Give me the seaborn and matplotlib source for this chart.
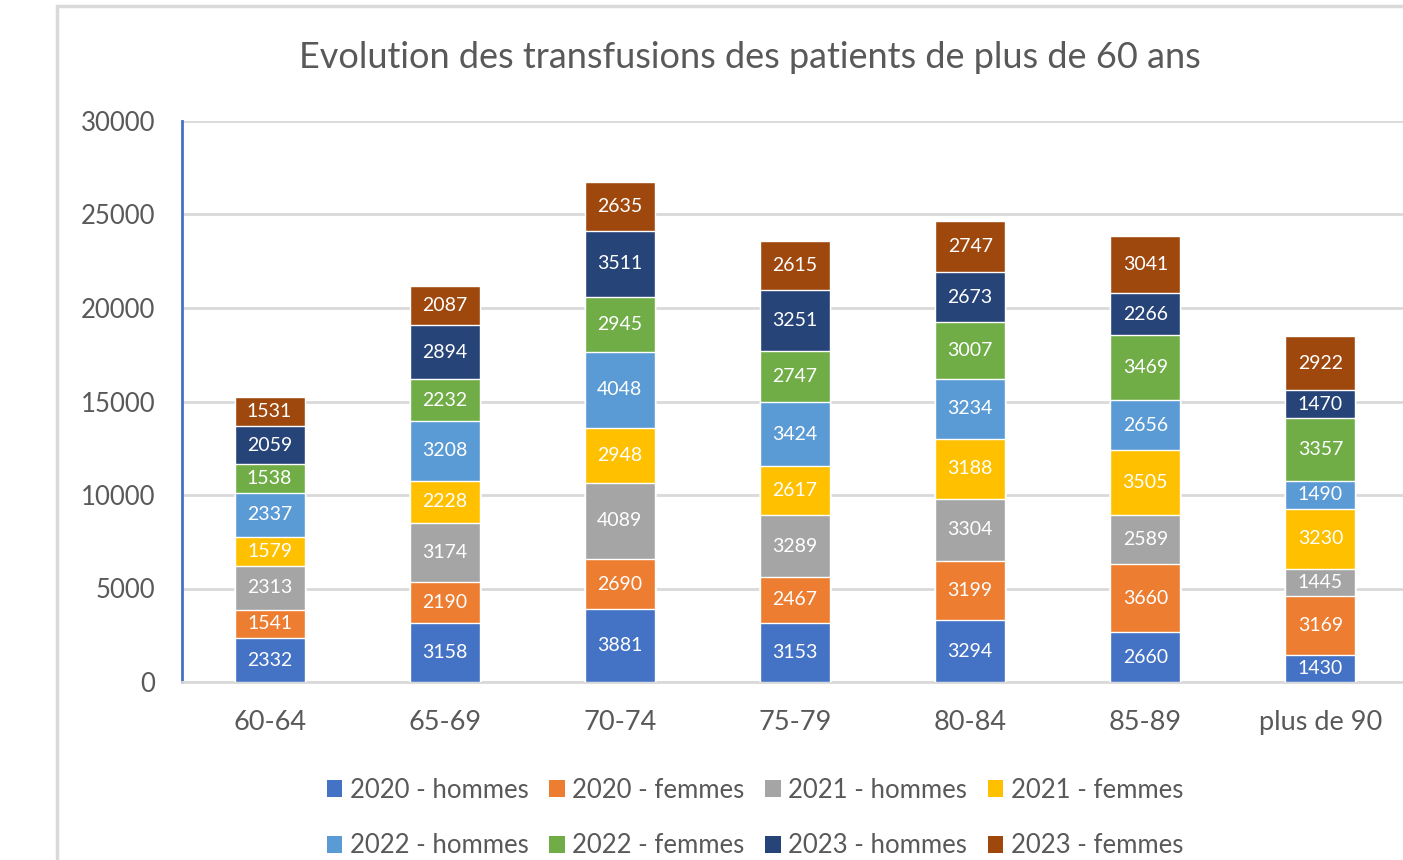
"""
Stacked bar chart: transfusions of patients over 60, by age group, year and sex.
"""

import numpy as np
import pandas as pd
import matplotlib
matplotlib.use('Agg')
import matplotlib.pyplot as plt
from matplotlib.patches import Patch, Rectangle
import seaborn as sns

# Data
age_groups = ['60-64', '65-69', '70-74', '75-79', '80-84', '85-89', 'plus de 90']
series_names = ['2020 - hommes', '2020 - femmes', '2021 - hommes', '2021 - femmes',
                '2022 - hommes', '2022 - femmes', '2023 - hommes', '2023 - femmes']

h2020 = [2332, 3158, 3881, 3153, 3294, 2660, 1430]
f2020 = [1541, 2190, 2690, 2467, 3199, 3660, 3169]
h2021 = [2313, 3174, 4089, 3289, 3304, 2589, 1445]
f2021 = [1579, 2228, 2948, 2617, 3188, 3505, 3230]
h2022 = [2337, 3208, 4048, 3424, 3234, 2656, 1490]
f2022 = [1538, 2232, 2945, 2747, 3007, 3469, 3357]
h2023 = [2059, 2894, 3511, 3251, 2673, 2266, 1470]
f2023 = [1531, 2087, 2635, 2615, 2747, 3041, 2922]

colors = ['#4472C4', '#ED7D31', '#A5A5A5', '#FFC000',
          '#5B9BD5', '#70AD47', '#264478', '#9E480E']

TEXT_GRAY = '#595959'
GRID_GRAY = '#D9D9D9'

sns.set_theme(style='white')
plt.rcParams['font.family'] = ['Lato', 'DejaVu Sans']

values = np.array([h2020, f2020, h2021, f2021, h2022, f2022, h2023, f2023])
tops = values.cumsum(axis=0)

df = pd.DataFrame({'age': age_groups})
for i, name in enumerate(series_names):
    df[name] = tops[i]

fig = plt.figure(figsize=(14.03, 8.6), dpi=100)
# plot area runs past the right edge (the screenshot is cropped)
ax = fig.add_axes([182 / 1403, 1 - 682 / 860, (1408 - 182) / 1403, (682 - 121) / 860])

# Draw cumulative bars from the top series down so lower ones cover them
for i in reversed(range(len(series_names))):
    sns.barplot(data=df, x='age', y=series_names[i], color=colors[i],
                width=0.4, saturation=1, ax=ax, zorder=3)

# Segment labels
for i in range(len(series_names)):
    for j in range(len(age_groups)):
        mid = tops[i, j] - values[i, j] / 2
        ax.text(j, mid, str(values[i, j]), ha='center', va='center',
                color='white', fontsize=14, zorder=5)

ax.set_xlim(-0.5, 6.5)
ax.set_ylim(0, 30000)
ax.set_yticks(range(0, 30001, 5000))
ax.set_xlabel('')
ax.set_ylabel('')
ax.yaxis.grid(True, color=GRID_GRAY, linewidth=2, zorder=0)
ax.set_axisbelow(True)

for side in ['top', 'right']:
    ax.spines[side].set_visible(False)
ax.spines['left'].set_color('#4472C4')
ax.spines['left'].set_linewidth(2)
ax.spines['bottom'].set_color(GRID_GRAY)
ax.spines['bottom'].set_linewidth(2)

ax.tick_params(axis='y', length=0, pad=19, labelsize=18.5, labelcolor=TEXT_GRAY)
ax.tick_params(axis='x', length=0, pad=20, labelsize=19.5, labelcolor=TEXT_GRAY)

fig.text(750 / 1403, 1 - 57 / 860,
         'Evolution des transfusions des patients de plus de 60 ans',
         ha='center', va='center', fontsize=26, color=TEXT_GRAY)

# Legend: reorder so the column-wise fill reads row by row
order = [0, 4, 1, 5, 2, 6, 3, 7]
handles = [Patch(facecolor=colors[k], edgecolor='none') for k in order]
labels = [series_names[k] for k in order]
leg = fig.legend(handles, labels, loc='center', ncol=4,
                 bbox_to_anchor=(755 / 1403, 1 - 818 / 860),
                 frameon=False, fontsize=18.5, handlelength=0.6, handleheight=0.6,
                 handletextpad=0.3, columnspacing=0.8, labelspacing=1.2)
for t in leg.get_texts():
    t.set_color(TEXT_GRAY)

# Chart area frame (cropped at right and bottom)
fig.patches.append(Rectangle((57 / 1403, -0.1), 1.0, (860 - 6) / 860 + 0.1,
                             transform=fig.transFigure, fill=False,
                             edgecolor=GRID_GRAY, linewidth=2.5))

fig.savefig('out.png', dpi=100)
plt.close(fig)
